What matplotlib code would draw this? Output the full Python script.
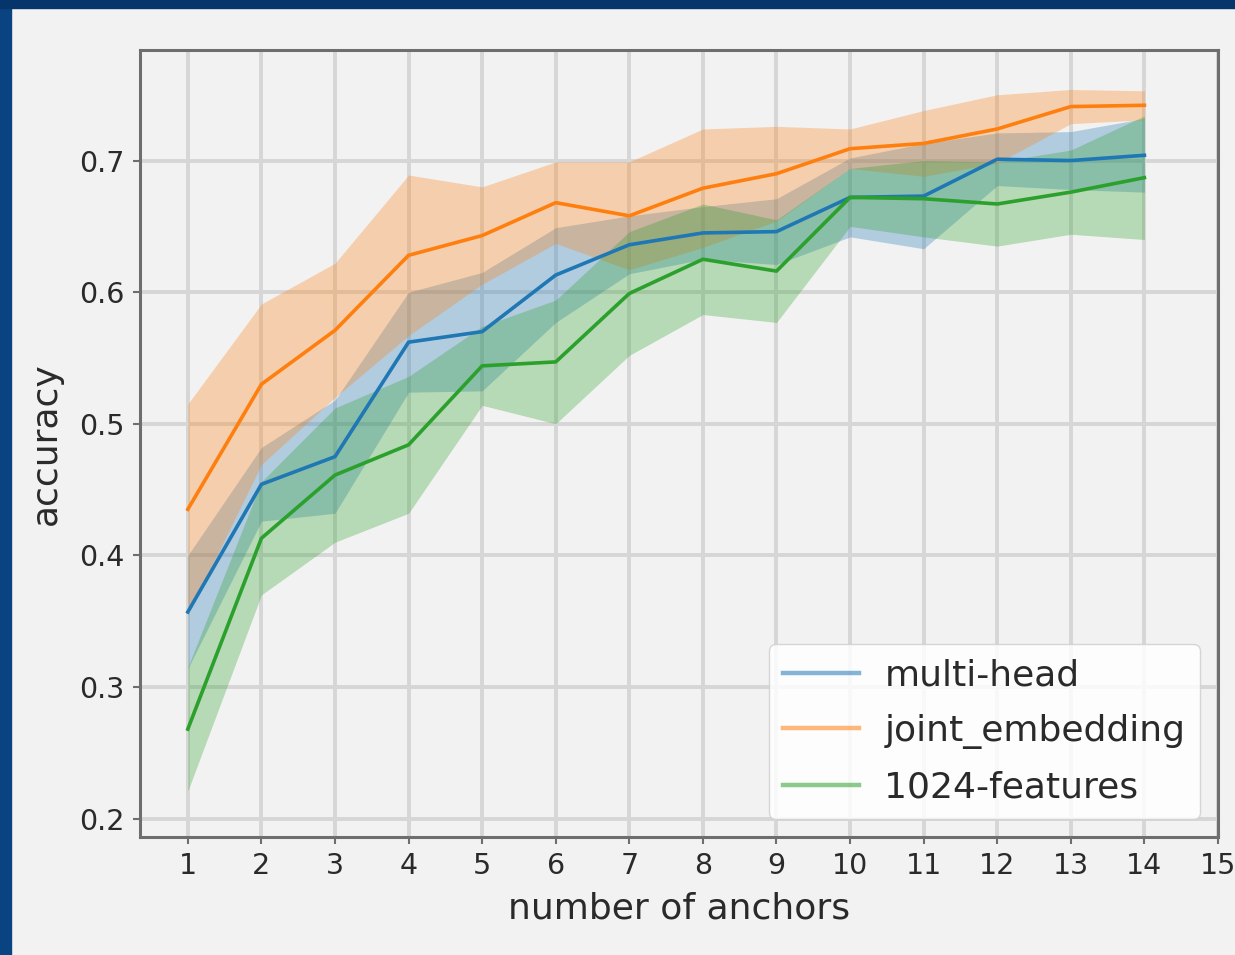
import numpy as np
import matplotlib
matplotlib.use('Agg')
import matplotlib.pyplot as plt
from matplotlib.patches import Rectangle

# number of anchors
anchors = list(range(1, 15))
xtick_labels = [str(i) for i in range(1, 16)]

# mean accuracy and std band per method
multi_head_mean = [0.357, 0.454, 0.475, 0.562, 0.570, 0.613, 0.636, 0.645, 0.646, 0.672, 0.673, 0.701, 0.700, 0.704]
multi_head_std = [0.043, 0.028, 0.043, 0.038, 0.045, 0.036, 0.022, 0.020, 0.025, 0.030, 0.040, 0.020, 0.022, 0.028]

joint_mean = [0.435, 0.530, 0.571, 0.628, 0.643, 0.668, 0.658, 0.679, 0.690, 0.709, 0.713, 0.724, 0.741, 0.742]
joint_std = [0.080, 0.061, 0.051, 0.061, 0.037, 0.031, 0.041, 0.045, 0.036, 0.015, 0.025, 0.026, 0.013, 0.011]

feat_mean = [0.268, 0.413, 0.461, 0.484, 0.544, 0.547, 0.599, 0.625, 0.616, 0.672, 0.671, 0.667, 0.676, 0.687]
feat_std = [0.047, 0.043, 0.051, 0.052, 0.030, 0.047, 0.047, 0.042, 0.039, 0.022, 0.029, 0.032, 0.032, 0.047]

series = [
    ('multi-head', multi_head_mean, multi_head_std, '#1f77b4'),
    ('joint_embedding', joint_mean, joint_std, '#ff7f0e'),
    ('1024-features', feat_mean, feat_std, '#2ca02c'),
]

W, H = 1235, 955
fig = plt.figure(figsize=(W / 100, H / 100), dpi=100, facecolor='#f2f2f2')
ax = fig.add_axes([140 / W, (H - 837) / H, (1218 - 140) / W, (837 - 50) / H])
ax.set_facecolor('#f2f2f2')

x = np.array(anchors)
for name, m, s, c in series:
    m = np.array(m)
    s = np.array(s)
    ax.plot(x, m, color=c, lw=2.6, label=name, zorder=3)
    ax.fill_between(x, m - s, m + s, color=c, alpha=0.3, lw=0, zorder=2)

ax.set_xticks(range(1, 16))
ax.set_xticklabels(xtick_labels)
ax.set_yticks([0.2, 0.3, 0.4, 0.5, 0.6, 0.7])
ax.set_xlim(0.35, 15)
ax.set_ylim(0.186, 0.784)

ax.grid(True, color='#d6d6d6', lw=2.8, zorder=0)
ax.set_axisbelow(True)
for sp in ax.spines.values():
    sp.set_color('#6e6e6e')
    sp.set_linewidth(2.2)
ax.tick_params(labelsize=20.5, labelcolor='#2a2a2a', color='#6e6e6e',
               length=5, width=1.5, pad=6)

ax.set_xlabel('number of anchors', fontsize=26, color='#2a2a2a', labelpad=8)
ax.set_ylabel('accuracy', fontsize=26, color='#2a2a2a', labelpad=12)

leg = ax.legend(loc='lower right', fontsize=26, framealpha=0.85,
                edgecolor='#d0d0d0', facecolor='white', handlelength=2.1,
                handletextpad=0.7, labelspacing=0.6)
for ln in leg.get_lines():
    ln.set_alpha(0.55)
    ln.set_linewidth(3.2)
for t in leg.get_texts():
    t.set_color('#2a2a2a')

# dark blue frame of the screenshot
fig.patches.append(Rectangle((0, 0), 11 / W, 1, transform=fig.transFigure,
                             color='#0a4381', zorder=10))
fig.patches.append(Rectangle((0, 1 - 8 / H), 1, 8 / H, transform=fig.transFigure,
                             color='#06356b', zorder=10))

fig.savefig('out.png', dpi=100, facecolor=fig.get_facecolor())
